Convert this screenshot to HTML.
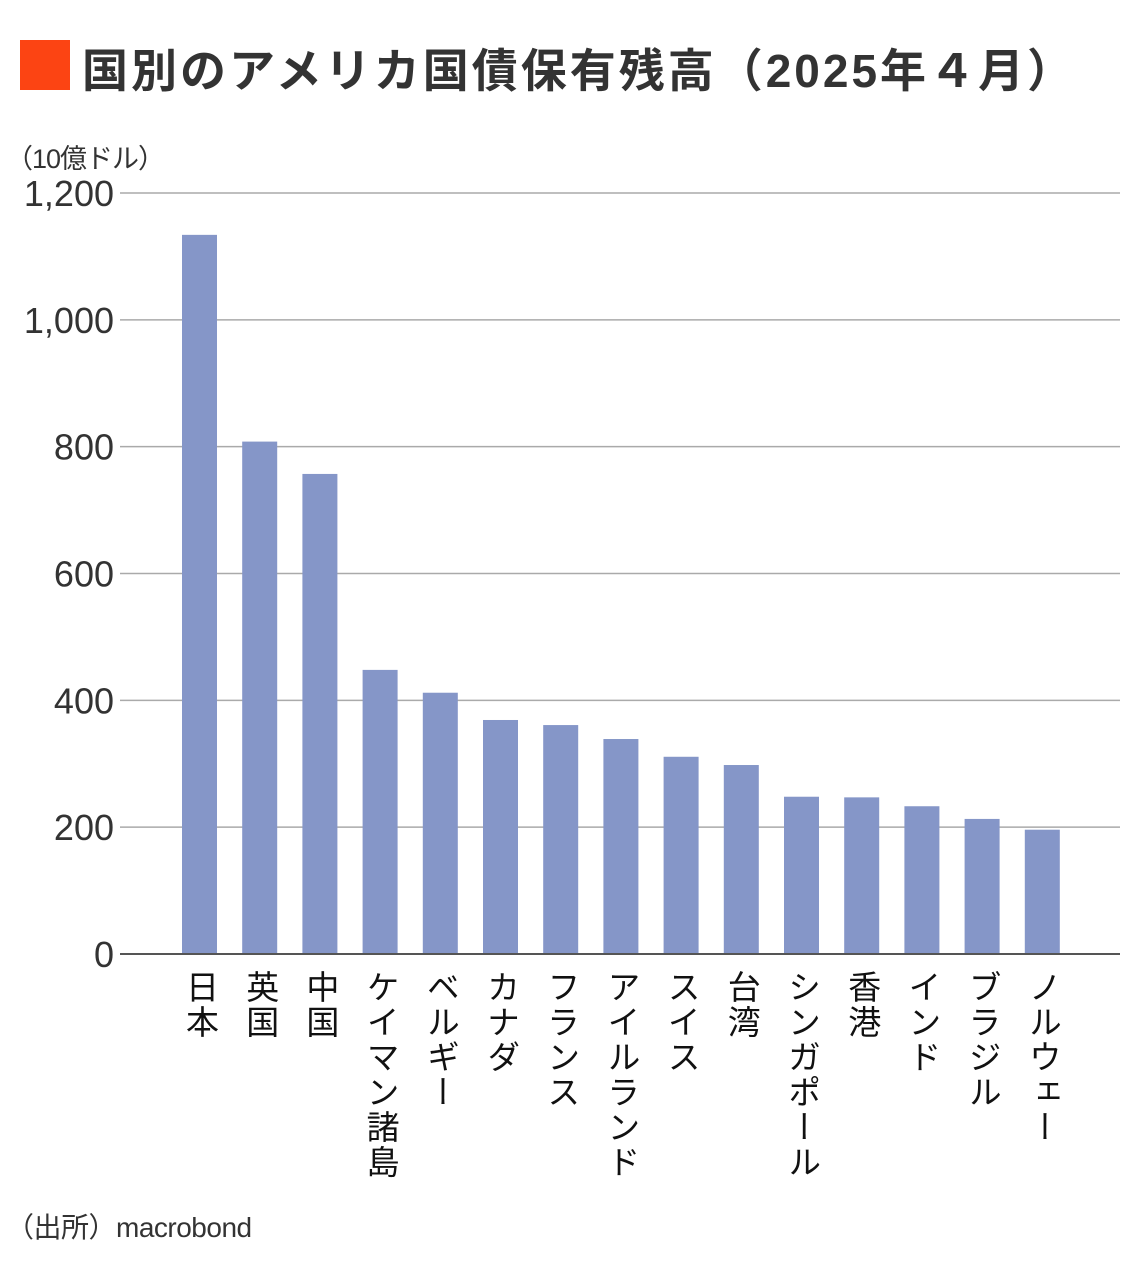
<!DOCTYPE html>
<html><head><meta charset="utf-8">
<style>
body{margin:0;width:1140px;height:1270px;background:#fff;overflow:hidden;font-family:"Liberation Sans","Noto Sans CJK JP",sans-serif;}
#wrap{position:relative;width:1140px;height:1270px;}
.xl{position:absolute;writing-mode:vertical-rl;font-size:33px;line-height:34px;color:#111;top:970px;width:34px;letter-spacing:2px;}
</style></head>
<body>
<div id="wrap">
<div style="position:absolute;left:20px;top:40px;width:50px;height:50px;background:#fc4413;"></div>
<div style="position:absolute;left:82px;top:35px;font-size:46px;font-weight:bold;color:#333;white-space:nowrap;letter-spacing:3px;">国別のアメリカ国債保有残高（2025年４月）</div>
<div style="position:absolute;left:6px;top:137px;font-size:27px;color:#333;letter-spacing:-1px;">（10億ドル）</div>
<svg id="chart" width="1140" height="1270" style="position:absolute;left:0;top:0;"></svg>
<div id="labels"></div>
<div style="position:absolute;left:6px;top:1206px;font-size:28px;color:#333;letter-spacing:-0.5px;">（出所）macrobond</div>
</div>
<script>
const categories=["日本","英国","中国","ケイマン諸島","ベルギー","カナダ","フランス","アイルランド","スイス","台湾","シンガポール","香港","インド","ブラジル","ノルウェー"];
const values=[1134,808,757,448,412,369,361,339,311,298,248,247,233,213,196];
const tickValues=[0,200,400,600,800,1000,1200];
const tickLabels=["0","200","400","600","800","1,000","1,200"];
const NS="http://www.w3.org/2000/svg";
const svg=document.getElementById('chart');
const y0=954,y1=193,vmax=1200;
function yScale(v){return y0-(y0-y1)*v/vmax;}
function xCenter(i){return 199.5+i*60.2;}
const bw=35;
tickValues.forEach((t,i)=>{
  const l=document.createElementNS(NS,'line');
  
  
  l.setAttribute('x1',120);l.setAttribute('x2',1120);
  l.setAttribute('y1',yScale(t));l.setAttribute('y2',yScale(t));
  l.setAttribute('stroke',t===0?'#555':'#aaa');l.setAttribute('stroke-width',t===0?2:1.5);
  svg.appendChild(l);
  const tx=document.createElementNS(NS,'text');
  
  
  tx.setAttribute('x',114);tx.setAttribute('y',yScale(t)+13);
  tx.setAttribute('text-anchor','end');tx.setAttribute('font-size','36');
  tx.setAttribute('fill','#333');
  tx.setAttribute('font-family','"Liberation Sans",sans-serif');
  tx.textContent=tickLabels[i];
  svg.appendChild(tx);
});
const labels=document.getElementById('labels');
categories.forEach((c,i)=>{
  const r=document.createElementNS(NS,'rect');
  
  
  r.setAttribute('x',xCenter(i)-bw/2);r.setAttribute('width',bw);
  r.setAttribute('y',yScale(values[i]));r.setAttribute('height',y0-yScale(values[i]));
  r.setAttribute('fill','#8596c8');
  svg.appendChild(r);
  const d=document.createElement('div');
  
  
  d.className='xl';
  d.style.left=(xCenter(i)-17)+'px';
  d.textContent=c;
  labels.appendChild(d);
});
const b=document.createElementNS(NS,'line');


b.setAttribute('x1',120);b.setAttribute('x2',1120);b.setAttribute('y1',y0);b.setAttribute('y2',y0);
b.setAttribute('stroke','#555');b.setAttribute('stroke-width',2);
svg.appendChild(b);
</script>
</body></html>
